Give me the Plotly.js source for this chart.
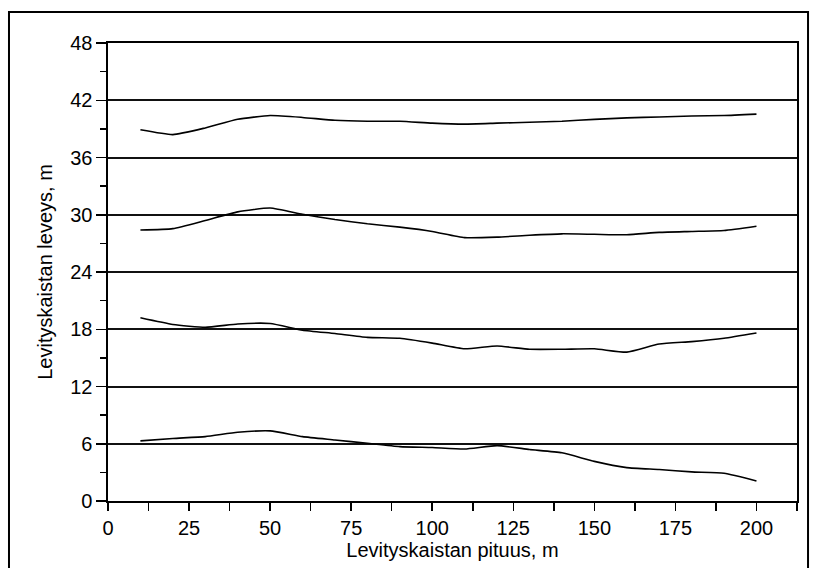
<!DOCTYPE html>
<html>
<head>
<meta charset="utf-8">
<script src="https://cdn.plot.ly/plotly-3.0.1.min.js"></script>
<style>
  html, body { margin: 0; padding: 0; background: #fff; }
  #chart { width: 815px; height: 568px; }
</style>
</head>
<body>
<div id="chart"></div>
<script>
// Strip length along the spreading band (m)
const pituus = [10, 20, 30, 40, 50, 60, 70, 80, 90, 100, 110, 120, 130, 140, 150, 160, 170, 180, 190, 200];

// Measured spreading widths (m) for the four runs
const leveys1 = [38.9, 38.4, 39.1, 40.0, 40.4, 40.2, 39.9, 39.8, 39.8, 39.6, 39.5, 39.6, 39.7, 39.8, 40.0, 40.15, 40.25, 40.35, 40.4, 40.55];
const leveys2 = [28.4, 28.55, 29.4, 30.3, 30.7, 30.05, 29.5, 29.05, 28.7, 28.25, 27.6, 27.65, 27.85, 28.0, 27.95, 27.9, 28.15, 28.25, 28.35, 28.8];
const leveys3 = [19.2, 18.5, 18.2, 18.55, 18.6, 17.9, 17.55, 17.15, 17.05, 16.55, 15.95, 16.25, 15.9, 15.9, 15.95, 15.6, 16.45, 16.7, 17.05, 17.6];
const leveys4 = [6.3, 6.55, 6.75, 7.2, 7.35, 6.75, 6.4, 6.05, 5.7, 5.6, 5.45, 5.8, 5.4, 5.05, 4.15, 3.5, 3.3, 3.05, 2.9, 2.1];

const sarjat = [leveys1, leveys2, leveys3, leveys4];

const xTitle = 'Levityskaistan pituus, m';
const yTitle = 'Levityskaistan leveys, m';

const font = 'Arial, "Liberation Sans", Helvetica, sans-serif';

const traces = sarjat.map(y => ({
  x: pituus,
  y: y,
  type: 'scatter',
  mode: 'lines',
  line: { color: '#000', width: 1.6, shape: 'spline', smoothing: 0.5 },
  hoverinfo: 'skip',
  showlegend: false
}));

const layout = {
  width: 815,
  height: 568,
  margin: { l: 108, r: 18, t: 43, b: 67 },
  paper_bgcolor: '#fff',
  plot_bgcolor: '#fff',
  font: { family: font, color: '#000', size: 20 },
  xaxis: {
    range: [0, 212.5],
    dtick: 25,
    tick0: 0,
    ticks: 'outside',
    ticklen: 8,
    tickwidth: 1.5,
    tickcolor: '#000',
    minor: { dtick: 12.5, ticks: 'outside', ticklen: 8, tickwidth: 1.5, tickcolor: '#000', showgrid: false },
    showgrid: false,
    zeroline: false,
    showline: true,
    linecolor: '#000',
    linewidth: 1.6,
    mirror: true,
    tickfont: { size: 20 },
    title: { text: xTitle, font: { size: 20 }, standoff: 0 }
  },
  yaxis: {
    range: [0, 48],
    dtick: 6,
    tick0: 0,
    ticks: 'outside',
    ticklen: 10,
    tickwidth: 1.5,
    tickcolor: '#000',
    minor: { dtick: 3, ticks: 'outside', ticklen: 6, tickwidth: 1.5, tickcolor: '#000', showgrid: false },
    showgrid: true,
    gridcolor: '#111',
    gridwidth: 2,
    zeroline: false,
    showline: true,
    linecolor: '#000',
    linewidth: 1.6,
    mirror: true,
    tickfont: { size: 20 },
    title: { text: yTitle, font: { size: 20 }, standoff: 12 }
  },
  shapes: [
    // outer frame around the figure, open at the bottom edge
    {
      type: 'rect', xref: 'paper', yref: 'paper',
      x0: -0.1437, x1: 1.0160, y0: -0.2, y1: 1.0677,
      line: { color: '#000', width: 2 }, fillcolor: 'rgba(0,0,0,0)', layer: 'above'
    }
  ]
};

Plotly.newPlot('chart', traces, layout, { staticPlot: true, displayModeBar: false });
</script>
</body>
</html>
